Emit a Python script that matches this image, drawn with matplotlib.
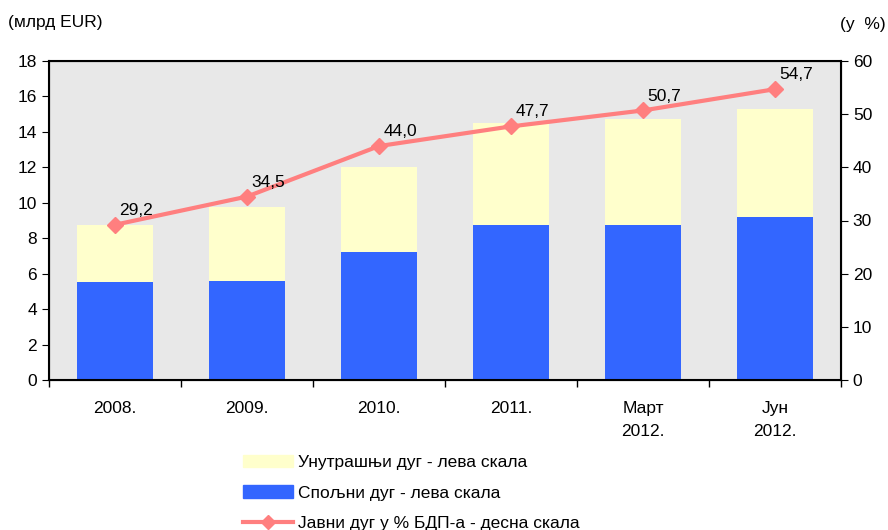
import matplotlib
matplotlib.use("Agg")
import matplotlib.pyplot as plt
import numpy as np
from matplotlib.lines import Line2D
from matplotlib.patches import Patch

plt.rcParams['font.family'] = ['Liberation Sans', 'DejaVu Sans']

categories = ["2008.", "2009.", "2010.", "2011.", "Март\n2012.", "Јун\n2012."]
external = [5.55, 5.6, 7.2, 8.75, 8.75, 9.2]
total = [8.75, 9.75, 12.0, 14.5, 14.75, 15.3]
domestic = [t - e for t, e in zip(total, external)]
public_debt_pct = [29.2, 34.5, 44.0, 47.7, 50.7, 54.7]
pct_labels = ["29,2", "34,5", "44,0", "47,7", "50,7", "54,7"]

FS = 12.5
fig = plt.figure(figsize=(8.88, 5.30), dpi=100)
ax = fig.add_axes([49/888, 1 - 380/530, 792/888, 319/530])
ax.set_facecolor("#E8E8E8")
x = np.arange(len(categories))
w = 0.57
ax.bar(x, external, w, color="#3366FF", zorder=2)
ax.bar(x, domestic, w, bottom=external, color="#FFFFCC", zorder=2)
ax.set_xlim(-0.5, len(categories) - 0.5)
ax.set_ylim(0, 18)
ax.set_yticks(range(0, 19, 2))
ax.set_xticks(np.arange(-0.5, len(categories), 1.0))
ax.set_xticklabels([])
ax.set_xticks(x, minor=True)
ax.set_xticklabels(categories, minor=True, fontsize=FS, linespacing=1.65)
ax.tick_params(axis='x', which='minor', length=0, pad=15)
ax.tick_params(axis='x', which='major', length=5, direction='out', width=1)
ax.tick_params(axis='y', length=5, direction='out', labelsize=FS)
for s in ["left", "bottom", "top", "right"]:
    ax.spines[s].set_linewidth(1.5)

ax2 = ax.twinx()
ax2.set_ylim(0, 60)
ax2.set_yticks(range(0, 61, 10))
ax2.tick_params(axis='y', length=5, direction='out', labelsize=FS)
ax2.plot(x, public_debt_pct, color="#FF7F7F", lw=3, marker="D", ms=8, zorder=3)
for xi, v, lab in zip(x, public_debt_pct, pct_labels):
    ax2.annotate(lab, (xi, v), xytext=(3, 5), textcoords="offset points",
                 fontsize=FS, ha="left", va="bottom")

fig.text(8/888, 1 - 22/530, "(млрд EUR)", fontsize=FS, va="center", ha="left")
fig.text(886/888, 1 - 25/530, "(у  %)", fontsize=FS, va="center", ha="right")

handles = [Patch(color="#FFFFCC"), Patch(color="#3366FF"),
           Line2D([0], [0], color="#FF7F7F", lw=3, marker="D", ms=7)]
labels = ["Унутрашњи дуг - лева скала", "Спољни дуг - лева скала",
          "Јавни дуг у % БДП-а - десна скала"]
fig.legend(handles, labels, loc="upper left", bbox_to_anchor=(243/888, 1 - 455/530),
           frameon=False, fontsize=FS, handlelength=2.9, handleheight=0.7,
           labelspacing=0.88, handletextpad=0.25, borderpad=0, borderaxespad=0)

fig.savefig("out.png", dpi=100)
